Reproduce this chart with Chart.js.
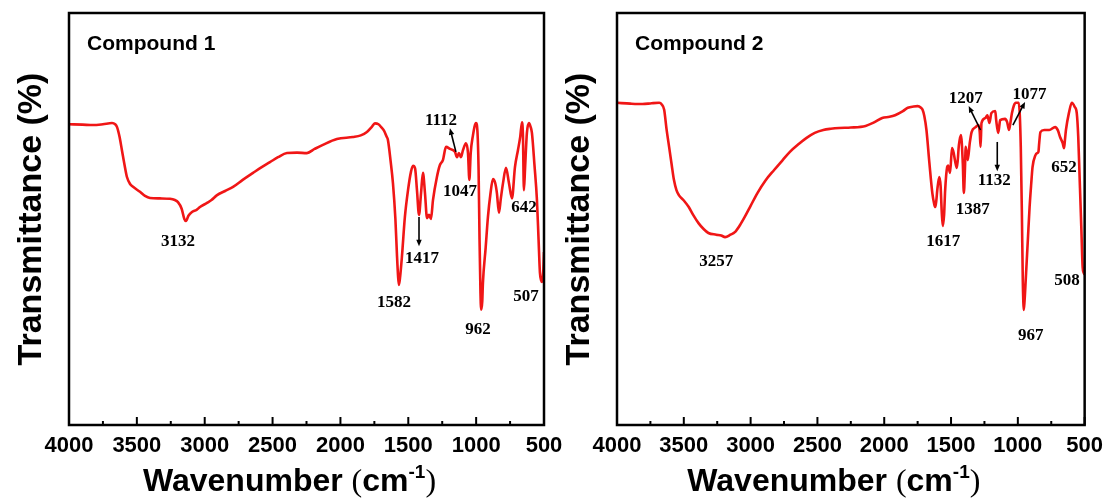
<!DOCTYPE html>
<html>
<head>
<meta charset="utf-8">
<script src="https://cdn.jsdelivr.net/npm/chart.js@4"></script>
<style>
  html, body { margin: 0; padding: 0; background: #fff; }
  #wrap { position: relative; width: 1111px; height: 498px; }
  canvas { position: absolute; left: 0; top: 0; }
</style>
</head>
<body>
<div id="wrap">
  <canvas id="chart1-ctx" width="1111" height="498"></canvas>
  <canvas id="chart2-ctx" width="1111" height="498"></canvas>
</div>
<script>
// Compound 1 spectrum (wavenumber, transmittance)
const wn1 = [4000, 3900, 3823, 3750, 3683, 3660, 3646, 3628, 3610, 3590, 3573, 3550, 3528, 3477, 3440, 3403, 3330, 3256, 3220, 3197,
  3170, 3150, 3138, 3120, 3094, 3060, 3035, 2983, 2950, 2909, 2850, 2791, 2720, 2644, 2580, 2519, 2460, 2394, 2320, 2247,
  2190, 2129, 2026, 1908, 1850, 1805, 1770, 1746, 1720, 1700, 1680, 1660, 1650, 1630, 1613, 1595, 1583, 1575, 1569, 1560,
  1547, 1525, 1502, 1480, 1465, 1450, 1436, 1421, 1406, 1392, 1377, 1362, 1347, 1333, 1318, 1289, 1267, 1245, 1222, 1193,
  1156, 1141, 1127, 1112, 1097, 1075, 1060, 1050, 1040, 1025, 1001, 990, 982, 975, 968, 963, 955, 950, 930, 913,
  895, 876, 860, 847, 832, 818, 802, 780, 758, 736, 714, 692, 675, 662, 655, 648, 640, 626, 611, 600,
  589, 570, 552, 540, 530, 520, 515, 505, 500];
const t1 = [73, 72.9, 72.8, 73, 73.3, 73, 72.3, 70, 66.7, 63, 60.2, 58.5, 57.8, 56.6, 55.6, 55.1, 55, 54.9, 54.6, 54.1,
  52.5, 50, 49.5, 50.8, 51.7, 52.2, 52.9, 53.9, 54.6, 55.8, 56.8, 57.8, 59.5, 61.2, 62.6, 63.8, 65, 66, 66.1, 66,
  67, 68, 69.4, 69.9, 70.3, 71.1, 72.3, 73.2, 73, 72.3, 71.5, 70, 69.2, 64, 58.7, 50, 41, 36, 34, 36,
  40.8, 50.5, 57, 61.5, 62.9, 62.3, 57, 51, 56.3, 61.2, 56.3, 50.2, 51, 50, 54.6, 60.2, 63.1, 64.3, 67.5, 67,
  66.3, 65, 66, 65, 66.7, 68.4, 66, 59.5, 66, 70, 73.3, 71, 62, 45, 32, 28, 30, 34.5, 43, 50.5,
  56, 59.7, 58.8, 56.3, 51.5, 55, 58.7, 62.4, 58.7, 55, 62.6, 66.7, 70, 73.5, 70, 57, 62, 70.9, 73.3, 72.5,
  70.9, 63, 54.6, 45, 37, 35, 34.7, 37.5, 42];

// Compound 2 spectrum
const wn2 = [4000, 3900, 3809, 3740, 3684, 3665, 3647, 3630, 3610, 3590, 3574, 3555, 3537, 3500, 3463, 3430, 3390, 3350, 3316, 3257,
  3220, 3191, 3150, 3118, 3080, 3044, 3000, 2949, 2890, 2824, 2760, 2706, 2640, 2581, 2520, 2456, 2400, 2338, 2250, 2140,
  2080, 2015, 1960, 1919, 1860, 1823, 1780, 1750, 1725, 1713, 1700, 1684, 1662, 1640, 1625, 1618, 1610, 1603, 1588, 1578,
  1570, 1562, 1552, 1544, 1529, 1522, 1507, 1493, 1480, 1471, 1456, 1441, 1426, 1412, 1404, 1396, 1390, 1375, 1360, 1346,
  1316, 1294, 1285, 1279, 1272, 1243, 1228, 1213, 1198, 1169, 1162, 1147, 1132, 1096, 1080, 1066, 1055, 1044, 1030, 1015,
  993, 985, 978, 970, 963, 959, 956, 950, 941, 925, 912, 900, 890, 868, 855, 846, 840, 831, 802, 765,
  721, 700, 684, 665, 654, 648, 640, 618, 596, 574, 559, 548, 537, 525, 515, 507, 500];
const t2 = [78.2, 78, 77.9, 78.1, 78.2, 77.8, 76.5, 72, 67.5, 63, 59.5, 57, 55.8, 54.5, 52.9, 51, 49, 47.5, 46.6, 46.2,
  46, 45.6, 46.2, 46.8, 48.5, 50.5, 53.2, 56.3, 59.3, 61.9, 64.3, 66.3, 68.2, 69.7, 70.9, 71.6, 71.9, 72.1, 72.2, 72.6,
  73.4, 74.5, 74.8, 75.2, 76.2, 77, 77.3, 77.4, 77, 76.5, 75, 71.6, 63.6, 56.3, 53.5, 52.9, 54.5, 57, 60.2, 58,
  52, 48.3, 51, 57, 62.6, 63, 61.2, 67.2, 66, 64.3, 62.4, 68, 70.4, 63.6, 56.3, 62, 67.5, 64.3, 68.4, 71.1,
  72.3, 72.8, 71, 67.5, 73.3, 74.5, 75.2, 73.3, 75.7, 76.2, 74, 70.9, 74, 74.3, 73.5, 71.6, 73.5, 75.7, 77.5, 78.2,
  78.2, 75, 67.5, 52, 35.2, 30, 27.9, 30, 35.2, 45, 52.9, 58.5, 62.6, 65.5, 66, 66.3, 68.5, 71.1, 71.6, 71.6,
  72.3, 71.5, 69.9, 68.5, 67.2, 69, 71.6, 75.7, 78.2, 77.2, 75.7, 70, 59.5, 48, 38.3, 36.9, 36.5];

// peak labels: text, wavenumber, transmittance of label centre
const peakText1 = ["3132", "1582", "1417", "1112", "1047", "962", "642", "507"];
const peakWn1 = [3197, 1605, 1399, 1259, 1119, 987, 648, 633];
const peakT1 = [44.4, 29.6, 40.5, 73.8, 56.6, 23.1, 52.7, 31.1];
const peakText2 = ["3257", "1617", "1387", "1207", "1132", "1077", "967", "652", "508"];
const peakWn2 = [3257, 1559, 1338, 1390, 1176, 912, 904, 654, 632];
const peakT2 = [39.6, 44.4, 52.2, 79.1, 59.2, 80.3, 21.8, 62.4, 35];

// arrows: [fromWn, fromT, toWn, toT]
const arrows1 = [[1421, 50.5, 1421, 43.4], [1149, 66.3, 1193, 72]];
const arrows2 = [[1279, 71.6, 1368, 77.4], [1154, 68.7, 1154, 61.6], [1037, 72.8, 946, 78.4]];

const xTicks = [500, 750, 1000, 1250, 1500, 1750, 2000, 2250, 2500, 2750, 3000, 3250, 3500, 3750, 4000];

const SANS = "Arial, 'Liberation Sans', sans-serif";
const SERIF = "'Times New Roman', 'Liberation Serif', serif";

function drawArrow(ctx, x1, y1, x2, y2) {
    const ang = Math.atan2(y2 - y1, x2 - x1);
    const head = 7;
    ctx.beginPath();
    ctx.moveTo(x1, y1);
    ctx.lineTo(x2 - Math.cos(ang) * head * 0.8, y2 - Math.sin(ang) * head * 0.8);
    ctx.stroke();
    ctx.beginPath();
    ctx.moveTo(x2, y2);
    ctx.lineTo(x2 - head * Math.cos(ang - 0.4), y2 - head * Math.sin(ang - 0.4));
    ctx.lineTo(x2 - head * Math.cos(ang + 0.4), y2 - head * Math.sin(ang + 0.4));
    ctx.closePath();
    ctx.fill();
}

const framePlugin = {
    id: "frame",
    afterDraw(chart, args, opts) {
        const { ctx, chartArea: a, scales } = chart;
        const x = scales.x;
        const y = scales.y;
        ctx.save();
        ctx.strokeStyle = "#000";
        ctx.fillStyle = "#000";

        // inward ticks
        ctx.lineWidth = 2;
        xTicks.forEach((v) => {
            const px = x.getPixelForValue(v);
            const len = v % 500 === 0 ? 8 : 4;
            ctx.beginPath();
            ctx.moveTo(px, a.bottom);
            ctx.lineTo(px, a.bottom - len);
            ctx.stroke();
        });

        // frame
        ctx.lineWidth = 2.5;
        ctx.strokeRect(a.left, a.top, a.right - a.left, a.bottom - a.top);

        // panel title
        ctx.font = "bold 21px " + SANS;
        ctx.textAlign = "left";
        ctx.textBaseline = "alphabetic";
        ctx.fillText(opts.title, a.left + 18, a.top + 37);

        // peak labels
        ctx.font = "bold 17px " + SERIF;
        ctx.textAlign = "center";
        ctx.textBaseline = "middle";
        opts.peakText.forEach((txt, i) => {
            ctx.fillText(txt, x.getPixelForValue(opts.peakWn[i]), y.getPixelForValue(opts.peakT[i]));
        });

        // arrows
        ctx.lineWidth = 1.6;
        opts.arrows.forEach((ar) => {
            drawArrow(ctx, x.getPixelForValue(ar[0]), y.getPixelForValue(ar[1]),
                x.getPixelForValue(ar[2]), y.getPixelForValue(ar[3]));
        });

        // y title
        ctx.save();
        ctx.translate(a.left - 37, (a.top + a.bottom) / 2);
        ctx.rotate(-Math.PI / 2);
        ctx.font = "bold 34px " + SANS;
        ctx.textAlign = "center";
        ctx.textBaseline = "middle";
        ctx.fillText("Transmittance (%)", 0, 0);
        ctx.restore();

        // x title with superscript
        const parts = [
            ["Wavenumber ", "bold 32px " + SANS, 0],
            ["(", "32px " + SERIF, 0],
            ["cm", "bold 32px " + SANS, 0],
            ["-1", "bold 19px " + SANS, -13],
            [")", "32px " + SERIF, 0],
        ];
        let total = 0;
        parts.forEach((p) => {
            ctx.font = p[1];
            total += ctx.measureText(p[0]).width;
        });
        let cx = (a.left + a.right) / 2 - 17 - total / 2;
        const base = 491;
        ctx.textAlign = "left";
        ctx.textBaseline = "alphabetic";
        parts.forEach((p) => {
            ctx.font = p[1];
            ctx.fillText(p[0], cx, base + p[2]);
            cx += ctx.measureText(p[0]).width;
        });
        ctx.restore();
    }
};

function buildSpectrum(canvasId, wn, t, padding, extra) {
    const points = wn.map((w, i) => ({ x: w, y: t[i] }));
    const ctx = document.getElementById(canvasId);
    return new Chart(ctx, {
        type: "line",
        data: {
            datasets: [{
                data: points,
                borderColor: "#f01616",
                borderWidth: 2.6,
                pointRadius: 0,
                cubicInterpolationMode: "monotone",
                fill: false,
            }]
        },
        options: {
            responsive: false,
            animation: false,
            layout: { padding: padding },
            plugins: {
                legend: { display: false },
                tooltip: { enabled: false },
                frame: extra,
            },
            scales: {
                x: {
                    type: "linear",
                    reverse: true,
                    min: 500,
                    max: 4000,
                    grid: { display: false, drawTicks: false },
                    border: { display: false },
                    ticks: {
                        stepSize: 500,
                        autoSkip: false,
                        maxRotation: 0,
                        padding: 8,
                        color: "#000",
                        font: { family: SANS, size: 22, weight: "bold" },
                        callback: (value) => String(value),
                    },
                    afterFit: (scale) => { scale.height = 73; },
                },
                y: {
                    display: false,
                    min: 0,
                    max: 100,
                }
            }
        },
        plugins: [framePlugin],
    });
}

buildSpectrum("chart1-ctx", wn1, t1, { left: 69, right: 567, top: 13, bottom: 0 }, {
    title: "Compound 1", peakText: peakText1, peakWn: peakWn1, peakT: peakT1, arrows: arrows1,
});
buildSpectrum("chart2-ctx", wn2, t2, { left: 617, right: 18, top: 13, bottom: 0 }, {
    title: "Compound 2", peakText: peakText2, peakWn: peakWn2, peakT: peakT2, arrows: arrows2,
});
</script>
</body>
</html>
